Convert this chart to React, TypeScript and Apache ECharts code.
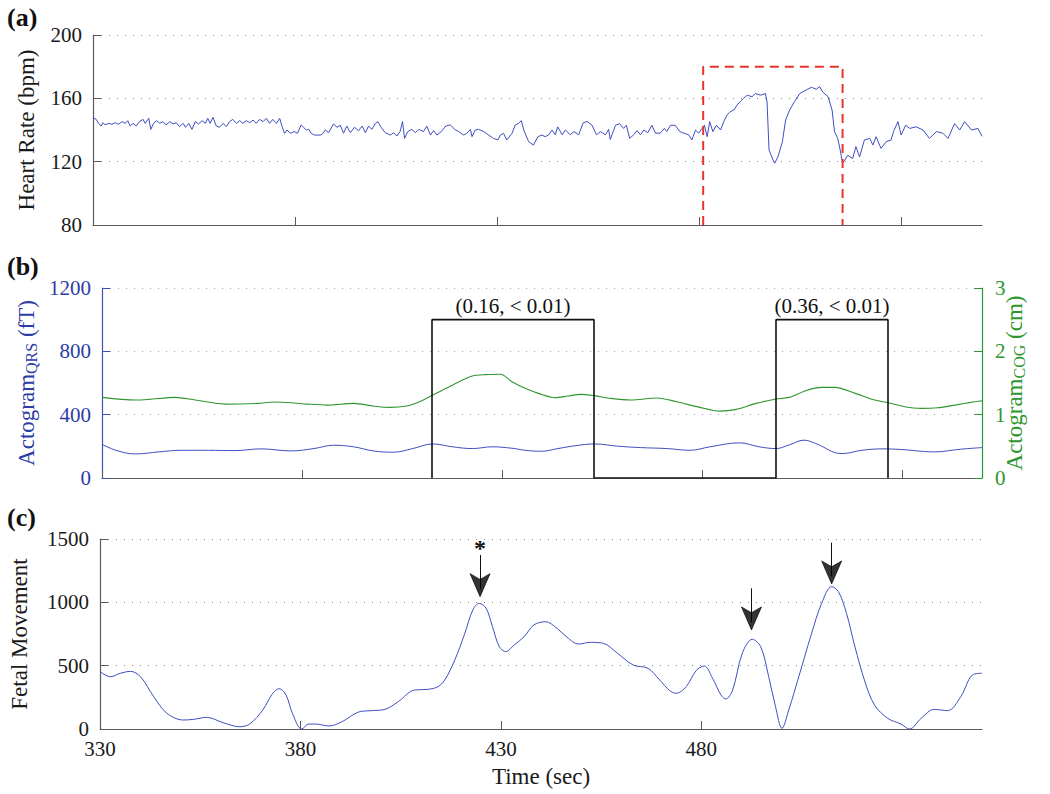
import React, { useEffect, useRef } from "react";
import * as echarts from "echarts";

// ---------- data ----------
const timeMin = 330;
const timeMax = 550;
const timeTicks = [330, 380, 430, 480, 530];

// (a) fetal heart rate (bpm)
const heartRate: [number, number][] = [
  [330, 147.8], [330.8, 146.7], [331.4, 144.2], [332, 142.5], [332.5, 144.6], [333, 143.2], [333.9, 144.2], [334.7, 143.6],
  [335.5, 144.6], [336.3, 143.6], [337.2, 145.3], [338, 144.2], [338.6, 145.9], [339.2, 142.5], [339.9, 144.2], [340.7, 142.5],
  [341.5, 145.3], [342.4, 146.7], [342.9, 144.2], [343.8, 147.4], [344.3, 140.4], [345, 144.2], [345.7, 145.9], [346.5, 144.2],
  [347.3, 145.3], [348.1, 143.2], [349, 145.3], [349.8, 143.8], [350.6, 144.6], [351.4, 142.1], [352.3, 144.2], [352.9, 141.7],
  [353.7, 144.2], [354.5, 140.4], [355.3, 145.3], [356.1, 143.8], [357, 145.9], [357.8, 144.2], [358.4, 147.4], [359, 144.2],
  [359.7, 148], [360.5, 142.5], [361.3, 141.7], [362.2, 144.2], [363, 142.1], [363.8, 145.3], [364.6, 146.7], [365.5, 144.2],
  [366.3, 145.9], [367.1, 144.2], [367.9, 145.9], [368.8, 144.6], [369.6, 146.3], [370.4, 144.2], [371.2, 146.7], [372.1, 145.3],
  [372.9, 147.4], [373.7, 144.2], [374.5, 146.7], [375.4, 144.2], [376.2, 147.4], [376.8, 142.1], [377.4, 137.9], [378, 140],
  [378.8, 137.9], [379.8, 139], [380.6, 137.9], [381.5, 143.2], [382.1, 141.7], [382.8, 140], [383.4, 140.4], [384, 137.9],
  [384.8, 136.8], [386.3, 136.8], [386.7, 137.3], [387.5, 140], [388.3, 138.3], [389.5, 143.8], [390.4, 141.7], [391.2, 143],
  [392, 138], [392.8, 142.5], [393.7, 138.3], [394.7, 141.7], [395.7, 139.6], [396.6, 142.5], [397.4, 138.3], [398.2, 142.5],
  [399, 140.4], [399.9, 144.2], [400.5, 145.3], [401.3, 141.7], [402.3, 138.3], [403.6, 136.8], [404.4, 138.3], [405.2, 136.2],
  [406, 139], [406.6, 145.3], [407.1, 134.7], [407.9, 139], [408.9, 140.4], [409.8, 138.3], [410.6, 140.4], [411.8, 139],
  [412.6, 142.5], [413.5, 136.8], [414.3, 139.6], [415.1, 136.8], [416.2, 139], [417.3, 142.5], [418.4, 143.2], [419.5, 140.4],
  [420.5, 139], [421.7, 136.8], [422.5, 137.9], [423.4, 140.4], [423.8, 135.8], [424.6, 140], [425.4, 140.4], [426.7, 139],
  [427.9, 136.8], [429.1, 134.7], [430.2, 133.7], [430.8, 136.8], [431.6, 137.9], [432.4, 133.7], [433.7, 137.9], [434.5, 143.2],
  [435.3, 144.2], [436, 145.9], [436.6, 140], [437.8, 132.6], [439, 130.5], [440.1, 135.8], [441.1, 136.8], [441.9, 135.8],
  [442.8, 137], [443.6, 140], [444.4, 137], [445, 142], [446.1, 137], [446.9, 140], [448.1, 137], [449, 139],
  [450.2, 137], [451.3, 144.6], [452.3, 145.3], [453.5, 143], [454.6, 137], [455.6, 139], [456.8, 137], [457.6, 140.4],
  [458, 134], [459.3, 143], [460.3, 144], [461.3, 141], [462, 143], [462.8, 134.7], [463.8, 137], [464.6, 139.6],
  [465.5, 137], [466.3, 140], [467.3, 138.3], [468.3, 143], [469.2, 138], [470.4, 138], [471.4, 141], [472, 139],
  [472.9, 143], [474.1, 143], [475.2, 139], [476.2, 138], [477.4, 137], [478.2, 133.7], [479.1, 140], [479.9, 138],
  [480.7, 141], [481.3, 143], [482, 135.8], [482.6, 145.3], [483.4, 139], [484.3, 143], [485.3, 140], [486.1, 145.3],
  [486.9, 149.5], [487.7, 151.6], [488.6, 152.6], [489.4, 155.8], [490.2, 158], [491, 160], [491.9, 162], [493.1, 161],
  [493.9, 163], [495.2, 162], [496.4, 163], [496.8, 158], [497.3, 127.4], [498.3, 121], [498.7, 119], [499.5, 123],
  [500.6, 132.6], [501.4, 146.3], [502.4, 152.6], [503.6, 158], [504.9, 163], [506.5, 165.3], [507.8, 167], [509, 165.7],
  [509.8, 167.4], [510.6, 164], [511.9, 161], [512.9, 152.6], [513.5, 139], [514.3, 134.7], [514.9, 127.4], [515.5, 119],
  [516.8, 124], [518, 122], [518.8, 129.5], [519.7, 123], [520.9, 133.7], [522.2, 134.7], [523, 130.5], [523.8, 135.8],
  [525, 128.4], [526.3, 132.6], [527.5, 133.7], [528.1, 139], [529.2, 145.3], [530, 136.8], [531.1, 143], [532.1, 141],
  [533.7, 142], [535.4, 140], [537, 134.7], [538.7, 139], [540.3, 138], [541.6, 134.7], [543.2, 144], [544.5, 140],
  [545.7, 145.3], [547.4, 140], [549, 141], [550, 136],
];

// (a) highlighted episode (red dashed box)
const redBox: [number, number][] = [[481, 80], [481, 180], [515.5, 180], [515.5, 80]];

// (b) actogram QRS (fT)
const actogramQRS: [number, number][] = [
  [330, 213], [333.5, 175], [338.4, 152], [344.2, 165], [350, 175], [356.6, 175], [363.2, 173], [369.8, 184],
  [377.2, 171], [383, 186], [387.9, 207], [392.9, 197], [397.8, 171], [402.8, 163], [407.7, 186], [412.7, 215],
  [417.6, 197], [422.6, 186], [427.5, 197], [432.5, 188], [435.8, 175], [439.9, 169], [444, 186], [448.1, 203],
  [453.1, 215], [458.9, 201], [464.6, 192], [471.2, 186], [477, 175], [482, 197], [489.4, 222], [494.3, 197],
  [498.5, 186], [501.8, 209], [505.5, 239], [508.4, 218], [515, 154], [520, 175], [524.9, 184], [529.8, 180],
  [538.1, 165], [544.7, 182], [550, 192],
];

// (b) actogram COG (cm)
const actogramCOG: [number, number][] = [
  [330, 1.273], [338.4, 1.231], [341.7, 1.241], [348.3, 1.273], [353.3, 1.231], [360.7, 1.167], [368.9, 1.178], [373.1, 1.199],
  [377.2, 1.188], [381.3, 1.167], [386.3, 1.151], [392.9, 1.178], [397.8, 1.136], [401.9, 1.115], [406.1, 1.136], [409.4, 1.204],
  [412.7, 1.31], [416, 1.416], [419.3, 1.521], [422.6, 1.611], [425.9, 1.632], [429.6, 1.637], [432.5, 1.521], [435.8, 1.416],
  [439.1, 1.336], [443.2, 1.268], [446.5, 1.294], [449.8, 1.321], [453.1, 1.3], [457.2, 1.257], [462.2, 1.231], [468.8, 1.262],
  [473.7, 1.204], [479.5, 1.115], [484.4, 1.056], [488.6, 1.083], [493.5, 1.178], [498.5, 1.247], [501.8, 1.273], [505.9, 1.379],
  [510, 1.431], [513.3, 1.431], [518.3, 1.336], [523.2, 1.231], [526.5, 1.188], [530.7, 1.125], [534.8, 1.099], [538.9, 1.109],
  [543.2, 1.151], [547.2, 1.194], [550, 1.22],
];

// (b) movement windows (black boxes) and their labels
const windowOutline: [number, number][] = [
  [412.5, 0], [412.5, 1000], [453, 1000], [453, 0], [498.5, 0], [498.5, 1000], [526.5, 1000], [526.5, 0],
];
const windowLabelTimes = [432.75, 512.5];
const windowLabelLevel = 1000;
const windowLabelTexts = ["(0.16, < 0.01)", "(0.36, < 0.01)"];

// (c) fetal movement
const fetalMovement: [number, number][] = [
  [330, 453], [332.6, 413], [335.1, 440], [337.6, 455], [340.1, 413], [343.4, 255], [346.7, 124], [350.8, 71],
  [353.3, 76], [356.6, 92], [360.7, 50], [364.8, 18], [367.3, 39], [370.6, 150], [373.1, 282], [374.7, 318],
  [376.4, 268], [378, 124], [380.3, 0], [382.1, 39], [383.8, 39], [387.1, 24], [390.4, 58], [394.5, 134],
  [397.8, 145], [401.1, 155], [404.4, 216], [408.5, 308], [411.8, 313], [414.3, 334], [416, 387], [418.5, 545],
  [421, 755], [423, 940], [424.6, 992], [426.3, 953], [427.9, 808], [429.6, 650], [431.2, 611], [433.3, 663],
  [435.8, 729], [438.2, 821], [441.1, 847], [444, 795], [446.5, 724], [449.4, 671], [452.3, 684], [455.6, 676],
  [458.9, 603], [463, 505], [466.7, 479], [469.6, 387], [472.1, 303], [473.7, 282], [476.2, 334], [478.7, 461],
  [480.7, 497], [482.8, 400], [484.9, 268], [486.1, 237], [487.8, 308], [490.2, 597], [492.7, 708], [494.8, 650],
  [496.8, 413], [498.5, 176], [500.1, 5], [501.8, 150], [504.3, 413], [507.5, 755], [510, 992], [512.5, 1124],
  [514.2, 1084], [516.2, 913], [518.3, 650], [520.8, 374], [523.2, 189], [526.5, 84], [529.8, 39], [531.9, 0],
  [534.8, 84], [538.1, 155], [541.4, 145], [544.7, 255], [547.6, 426], [550, 440],
];

// (c) arrows marking movement peaks: time, shaft start, arrow tip
const arrowTimes = [424.8, 492.5, 512.5];
const arrowStarts = [1374, 1111, 1471];
const arrowTips = [1045, 782, 1145];
const asteriskPoint: [number, number] = [424.8, 1430];

// ---------- styles ----------
const SERIF = '"Liberation Serif", "Times New Roman", "DejaVu Serif", serif';
const BLUE_LINE = "#3d4fbf";
const BLUE_TEXT = "#2b3ca6";
const GREEN = "#2e962e";
const GRAY_AXIS = "#5a5a5a";
const GRID_DOTS = "#8a8a8a";
const BLUE_DOTS = "#8f98cc";

const GRID_LEFT = 93;
const GRID_WIDTH = 889;

const plainNumber = (v: number) => String(v);

function xAxisFor(gridIndex: number, showLabels: boolean) {
  return {
    type: "value",
    gridIndex,
    min: timeMin,
    max: timeMax,
    interval: 50,
    position: "bottom",
    axisLine: { show: true, lineStyle: { color: GRAY_AXIS, width: 1.2 } },
    axisTick: { show: true, inside: true, length: 8, lineStyle: { color: GRAY_AXIS }, customValues: timeTicks },
    axisLabel: {
      show: showLabels,
      customValues: timeTicks,
      showMaxLabel: false,
      formatter: plainNumber,
      margin: 9,
      fontFamily: SERIF,
      fontSize: 21,
      color: "#1a1a1a",
    },
    splitLine: { show: false },
    name: showLabels ? "Time (sec)" : "",
    nameLocation: "middle",
    nameGap: 36,
    nameMoveOverlap: false,
    nameTextStyle: { fontFamily: SERIF, fontSize: 23, color: "#1a1a1a" },
  };
}

export default function App() {
  const ref = useRef<HTMLDivElement>(null);

  useEffect(() => {
    if (!ref.current) return;
    const chart = echarts.init(ref.current, undefined, { renderer: "svg" });

    const arrowShafts = arrowTimes.map((t, i) => [
      { coord: [t, arrowStarts[i]] },
      { coord: [t, arrowTips[i] + 60] },
    ]);
    const arrowHeads = arrowTimes.map((t, i) => [t, arrowTips[i]]);

    const subRich = (color: string) => ({
      m: { fontFamily: SERIF, fontSize: 23, color, lineHeight: 24, verticalAlign: "top" },
      sub: { fontFamily: SERIF, fontSize: 16, color, lineHeight: 16, verticalAlign: "bottom", padding: [15, 0, 0, 0] },
    });

    const option: any = {
      animation: false,
      backgroundColor: "#ffffff",
      grid: [
        { left: GRID_LEFT, top: 35, width: GRID_WIDTH, height: 190 },
        { left: GRID_LEFT, top: 288, width: GRID_WIDTH, height: 190 },
        { left: GRID_LEFT, top: 539, width: GRID_WIDTH, height: 190 },
      ],
      xAxis: [xAxisFor(0, false), xAxisFor(1, false), xAxisFor(2, true)],
      yAxis: [
        {
          type: "value",
          gridIndex: 0,
          min: 80,
          max: 200,
          interval: 40,
          axisLine: { show: true, lineStyle: { color: GRAY_AXIS, width: 1.2 } },
          axisTick: { show: true, inside: true, length: 8, lineStyle: { color: GRAY_AXIS } },
          axisLabel: { margin: 11, formatter: plainNumber, fontFamily: SERIF, fontSize: 21, color: "#1a1a1a" },
          splitLine: { show: true, lineStyle: { color: GRID_DOTS, type: [1, 7], width: 1 } },
          name: "Heart Rate (bpm)",
          nameLocation: "middle",
          nameRotate: 90,
          nameGap: 55,
          nameMoveOverlap: false,
          nameTextStyle: { fontFamily: SERIF, fontSize: 23, color: "#1a1a1a" },
        },
        {
          type: "value",
          gridIndex: 1,
          min: 0,
          max: 1200,
          interval: 400,
          position: "left",
          axisLine: { show: true, lineStyle: { color: BLUE_LINE, width: 1.2 } },
          axisTick: { show: true, inside: true, length: 8, lineStyle: { color: BLUE_LINE } },
          axisLabel: { margin: 11, formatter: plainNumber, fontFamily: SERIF, fontSize: 21, color: BLUE_TEXT },
          splitLine: { show: true, lineStyle: { color: BLUE_DOTS, type: [1, 7], width: 1 } },
          name: "{m|Actogram}{sub|QRS}{m| (fT)}",
          nameLocation: "middle",
          nameRotate: 90,
          nameGap: 63,
          nameMoveOverlap: false,
          nameTextStyle: { fontFamily: SERIF, fontSize: 23, color: BLUE_TEXT, rich: subRich(BLUE_TEXT) },
        },
        {
          type: "value",
          gridIndex: 1,
          min: 0,
          max: 3,
          interval: 1,
          position: "right",
          axisLine: { show: true, lineStyle: { color: GREEN, width: 1.2 } },
          axisTick: { show: true, inside: true, length: 8, lineStyle: { color: GREEN } },
          axisLabel: { margin: 13, formatter: plainNumber, fontFamily: SERIF, fontSize: 21, color: GREEN },
          splitLine: { show: false },
          name: "{m|Actogram}{sub|COG}{m| (cm)}",
          nameLocation: "middle",
          nameRotate: 90,
          nameGap: 21,
          nameMoveOverlap: false,
          nameTextStyle: { fontFamily: SERIF, fontSize: 23, color: GREEN, rich: subRich(GREEN) },
        },
        {
          type: "value",
          gridIndex: 2,
          min: 0,
          max: 1500,
          interval: 500,
          axisLine: { show: true, lineStyle: { color: GRAY_AXIS, width: 1.2 } },
          axisTick: { show: true, inside: true, length: 8, lineStyle: { color: GRAY_AXIS } },
          axisLabel: { margin: 11, formatter: plainNumber, fontFamily: SERIF, fontSize: 21, color: "#1a1a1a" },
          splitLine: { show: true, lineStyle: { color: GRID_DOTS, type: [1, 7], width: 1 } },
          name: "Fetal Movement",
          nameLocation: "middle",
          nameRotate: 90,
          nameGap: 69,
          nameMoveOverlap: false,
          nameTextStyle: { fontFamily: SERIF, fontSize: 23, color: "#1a1a1a" },
        },
      ],
      series: [
        {
          name: "Heart rate",
          type: "line",
          xAxisIndex: 0,
          yAxisIndex: 0,
          data: heartRate,
          showSymbol: false,
          symbol: "none",
          lineStyle: { color: BLUE_LINE, width: 1 },
          z: 3,
        },
        {
          name: "Episode",
          type: "line",
          xAxisIndex: 0,
          yAxisIndex: 0,
          data: redBox,
          symbol: "none",
          lineStyle: { color: "#e8342c", width: 2, type: [9, 6] },
          z: 4,
        },
        {
          name: "Actogram QRS",
          type: "line",
          xAxisIndex: 1,
          yAxisIndex: 1,
          data: actogramQRS,
          smooth: 0.4,
          symbol: "none",
          lineStyle: { color: BLUE_LINE, width: 1 },
        },
        {
          name: "Actogram COG",
          type: "line",
          xAxisIndex: 1,
          yAxisIndex: 2,
          data: actogramCOG,
          smooth: 0.3,
          symbol: "none",
          lineStyle: { color: GREEN, width: 1.1 },
        },
        {
          name: "Windows",
          type: "line",
          xAxisIndex: 1,
          yAxisIndex: 1,
          data: windowOutline,
          symbol: "none",
          lineStyle: { color: "#111111", width: 1.6 },
          z: 5,
          markPoint: {
            symbol: "circle",
            symbolSize: 0,
            silent: true,
            label: {
              show: true,
              position: "top",
              distance: 3,
              fontFamily: SERIF,
              fontSize: 21,
              color: "#111111",
            },
            data: windowLabelTimes.map((t, i) => ({
              coord: [t, windowLabelLevel],
              label: { formatter: windowLabelTexts[i] },
            })),
          },
        },
        {
          name: "Fetal movement",
          type: "line",
          xAxisIndex: 2,
          yAxisIndex: 3,
          data: fetalMovement,
          smooth: 0.35,
          symbol: "none",
          lineStyle: { color: BLUE_LINE, width: 1 },
          markLine: {
            silent: true,
            symbol: ["none", "none"],
            lineStyle: { color: "#111111", width: 1, type: "solid" },
            label: { show: false },
            emphasis: { disabled: true },
            data: arrowShafts,
          },
          markPoint: {
            symbol: "circle",
            symbolSize: 0,
            silent: true,
            label: {
              show: true,
              position: "inside",
              formatter: "*",
              fontFamily: SERIF,
              fontWeight: "bold",
              fontSize: 24,
              color: "#111111",
            },
            data: [{ coord: asteriskPoint }],
          },
        },
        {
          name: "Arrow heads",
          type: "scatter",
          xAxisIndex: 2,
          yAxisIndex: 3,
          data: arrowHeads,
          symbol: "arrow",
          symbolSize: [15, 23],
          symbolRotate: 180,
          symbolOffset: [0, 0],
          itemStyle: { color: "#000000", borderColor: "#000000", borderWidth: 0.8 },
          silent: true,
          z: 6,
        },
      ],
      graphic: [
        { type: "text", left: 7, top: 4, style: { text: "(a)", font: `bold 26px ${SERIF}`, fill: "#111111" } },
        { type: "text", left: 7, top: 253, style: { text: "(b)", font: `bold 26px ${SERIF}`, fill: "#111111" } },
        { type: "text", left: 7, top: 504, style: { text: "(c)", font: `bold 26px ${SERIF}`, fill: "#111111" } },
      ],
    };

    chart.setOption(option);
    return () => {
      chart.dispose();
    };
  }, []);

  return (
    <div
      ref={ref}
      style={{ position: "fixed", left: 0, top: 0, width: 1050, height: 794, background: "#ffffff" }}
    />
  );
}
